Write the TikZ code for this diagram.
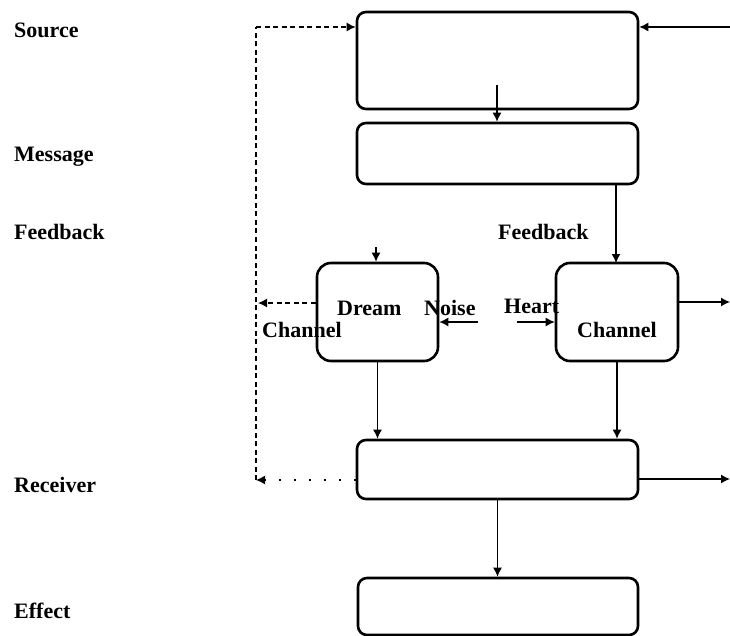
\documentclass[tikz,border=0pt]{standalone}
\usepackage{fontspec}
\setmainfont{Liberation Serif}
\usetikzlibrary{arrows.meta}
\begin{document}
\begin{tikzpicture}[x=1pt,y=-1pt,
  box/.style={draw,line width=2.6pt,rounded corners=9pt,inner sep=0pt},
  tip/.tip={Latex[length=9pt,width=9pt]},
  arr/.style={line width=1.3pt,-tip},
  dsh/.style={line width=1.3pt,dash pattern=on 5pt off 3.5pt},
  lbl/.style={anchor=base west,inner sep=0pt,font=\fontsize{22}{24}\selectfont\bfseries},
  txt/.style={anchor=base west,inner sep=0pt,font=\fontsize{22}{24}\selectfont\bfseries}]
\useasboundingbox (0,0) rectangle (730,636);
% boxes
\node[box,minimum width=281pt,minimum height=97pt] (src) at (497.5,60.5) {};
\node[box,minimum width=281pt,minimum height=61pt] (msg) at (497.5,153.5) {};
\node[box,rounded corners=14pt,minimum width=121pt,minimum height=98pt] (ch1) at (377.5,312) {};
\node[box,rounded corners=14pt,minimum width=122pt,minimum height=98pt] (ch2) at (617,312) {};
\node[box,minimum width=281pt,minimum height=59pt] (rcv) at (497.5,469.5) {};
\node[box,minimum width=280pt,minimum height=57pt] (eff) at (498,606.5) {};
% left labels
\node[lbl] (lsrc) at (14,38) {Source};
\node[lbl] (lmsg) at (14,162) {Message};
\node[lbl] (lfb) at (14,240) {Feedback};
\node[lbl] (lrcv) at (14,492) {Receiver};
\node[lbl] (leff) at (14,618) {Effect};
% inner texts
\node[txt] (tfb) at (498,240) {Feedback};
\node[txt] (tdream) at (337,315) {Dream};
\node[txt] (tnoise) at (424,315) {Noise};
\node[txt] (theart) at (504,313) {Heart};
\node[txt] (tch1) at (262,337) {Channel};
\node[txt] (tch2) at (577,337) {Channel};
% coordinates
\coordinate (srcin) at (497,85);
\coordinate (rin) at (730,27);
\coordinate (ctop) at (256,27);
\coordinate (cbot) at (256,480);
\coordinate (d1top) at (376,247);
\coordinate (d1left) at (258,303);
\coordinate (nstart) at (478,322);
\coordinate (hstart) at (517,322);
\coordinate (c2out) at (730,302);
\coordinate (rout) at (730,479);
% connectors
\draw[arr] (srcin) -- (srcin |- msg.north);
\draw[arr] (rin) -- (rin -| src.east);
\draw[dsh] (cbot) -- (ctop);
\draw[dsh,-tip] (ctop) -- (ctop -| src.west);
\draw[line width=1.3pt,dash pattern=on 1.5pt off 13.5pt,-tip] (rcv.west |- cbot) -- (cbot);
\draw[arr] (616,184) -- (616,263);
\draw[arr] (d1top) -- (d1top |- ch1.north);
\draw[dsh,-tip] (d1left -| ch1.west) -- (d1left);
\draw[arr] (nstart) -- (nstart -| ch1.east);
\draw[arr] (hstart) -- (hstart -| ch2.west);
\draw[arr] (c2out -| ch2.east) -- (c2out);
\draw[arr] (ch1.south) -- (ch1.south |- rcv.north);
\draw[arr] (ch2.south) -- (ch2.south |- rcv.north);
\draw[arr] (rout -| rcv.east) -- (rout);
\draw[arr] (rcv.south) -- (rcv.south |- eff.north);
\end{tikzpicture}
\end{document}
